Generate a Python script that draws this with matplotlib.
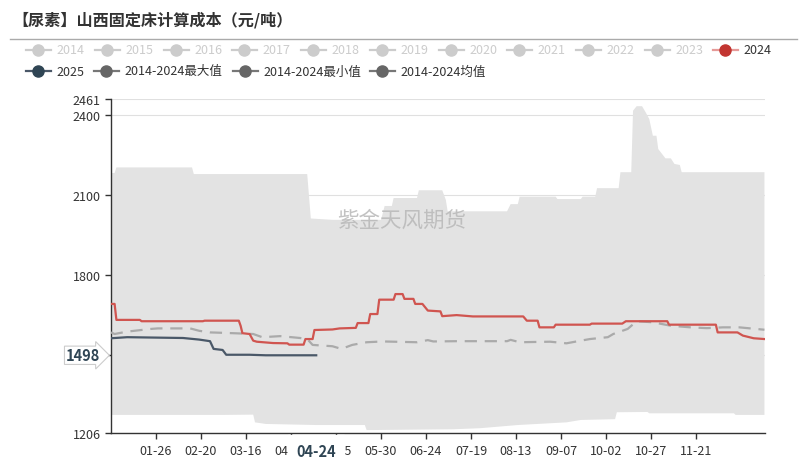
import matplotlib
matplotlib.use('Agg')
import matplotlib.pyplot as plt
from matplotlib.lines import Line2D

plt.rcParams['font.family'] = ['Noto Sans CJK SC', 'DejaVu Sans']

# day-of-year (2024 calendar) and values
max_days = [0, 2, 3, 45, 46, 109, 111, 123, 150, 152, 156, 157, 170, 171, 184, 186, 187,
            220, 222, 226, 227, 247, 248, 261, 262, 269, 270, 282, 283, 289, 290, 292,
            295, 297, 299, 301, 303, 304, 308, 311, 313, 316, 317, 363]
max_vals = [2183, 2183, 2204, 2204, 2179, 2179, 2012, 2007, 2007, 2059, 2059, 2089, 2089,
            2118, 2118, 2082, 2039, 2039, 2066, 2066, 2094, 2094, 2085, 2085, 2094, 2094,
            2126, 2126, 2186, 2186, 2417, 2434, 2434, 2411, 2386, 2323, 2323, 2273, 2238,
            2238, 2217, 2213, 2186, 2186]

min_days = [0, 63, 79, 80, 86, 114, 141, 142, 190, 205, 226, 253, 261, 280, 281, 298,
            299, 346, 347, 363]
min_vals = [1274, 1274, 1275, 1246, 1240, 1236, 1236, 1217, 1220, 1224, 1236, 1246, 1255,
            1258, 1284, 1285, 1280, 1280, 1274, 1274]

y2024_days = [0, 2, 3, 16, 17, 51, 52, 71, 72, 73, 77, 79, 81, 90, 98, 99, 107, 108, 112,
              113, 123, 127, 136, 137, 143, 144, 148, 149, 157, 158, 162, 163, 168, 169,
              173, 176, 183, 184, 192, 201, 229, 231, 237, 238, 246, 247, 266, 267, 284,
              286, 309, 310, 336, 337, 348, 351, 357, 363]
y2024_vals = [1691, 1691, 1631, 1631, 1626, 1626, 1628, 1628, 1609, 1581, 1578, 1553, 1549,
              1544, 1543, 1538, 1538, 1559, 1559, 1593, 1595, 1599, 1601, 1619, 1619, 1653,
              1653, 1707, 1707, 1728, 1728, 1710, 1710, 1691, 1691, 1666, 1663, 1645, 1649,
              1644, 1644, 1628, 1628, 1603, 1603, 1613, 1613, 1617, 1617, 1626, 1626, 1613,
              1613, 1584, 1584, 1572, 1562, 1559]

y2025_days = [0, 9, 40, 49, 55, 57, 62, 64, 77, 86, 114]
y2025_vals = [1562, 1566, 1563, 1557, 1551, 1522, 1518, 1500, 1500, 1498, 1498]

mean_days = [0, 2, 9, 22, 26, 44, 49, 55, 68, 79, 84, 94, 105, 109, 112, 123, 128, 134,
             142, 151, 170, 176, 179, 192, 220, 222, 227, 244, 253, 261, 266, 276, 279,
             287, 292, 301, 311, 322, 331, 340, 349, 363]
mean_vals = [1584, 1578, 1587, 1597, 1599, 1599, 1590, 1584, 1581, 1578, 1566, 1570, 1563,
             1559, 1537, 1532, 1522, 1537, 1547, 1550, 1547, 1555, 1550, 1551, 1551, 1556,
             1547, 1549, 1543, 1553, 1559, 1566, 1578, 1597, 1626, 1622, 1609, 1603, 1600,
             1603, 1603, 1594]

tick_days = [25, 50, 75, 100, 125, 150, 175, 200, 225, 250, 275, 300, 325]
tick_labels = ['01-26', '02-20', '03-16', '04-10', '05-05', '05-30', '06-24', '07-19',
               '08-13', '09-07', '10-02', '10-27', '11-21']
y_ticks = [1206, 1500, 1800, 2100, 2400, 2461]
y_labels = ['1206', '', '1800', '2100', '2400', '2461']

legend_row1 = ['2014', '2015', '2016', '2017', '2018', '2019', '2020', '2021', '2022',
               '2023', '2024']
legend_row2 = ['2025', '2014-2024最大值', '2014-2024最小值', '2014-2024均值']

fig = plt.figure(figsize=(8.07, 4.6), dpi=100)
ax = fig.add_axes([111 / 807, 1 - 434 / 460, 654 / 807, 334 / 460])

# band between max and min
ax.fill(max_days + min_days[::-1], max_vals + min_vals[::-1], color='#e3e3e3', lw=0, zorder=1)
ax.plot(mean_days, mean_vals, color='#aaaaaa', lw=1.6, dashes=(5.5, 3.5), zorder=3)
ax.plot(y2024_days, y2024_vals, color='#d05550', lw=1.6, zorder=4)
ax.plot(y2025_days, y2025_vals, color='#4a5868', lw=1.6, zorder=5)

ax.set_xlim(0, 363.3)
ax.set_ylim(1206, 2461)
ax.set_yticks(y_ticks)
ax.set_yticklabels(y_labels)
ax.set_xticks(tick_days)
ax.set_xticklabels(tick_labels)
ax.tick_params(axis='both', labelsize=9, colors='#333333', length=4, width=1)
ax.tick_params(axis='x', pad=4)
ax.grid(axis='y', color='#e0e0e0', lw=0.8, zorder=0)
ax.set_axisbelow(True)
for s in ['top', 'right']:
    ax.spines[s].set_visible(False)
for s in ['left', 'bottom']:
    ax.spines[s].set_color('#333333')
    ax.spines[s].set_linewidth(1)

# axis pointer labels (cover the neighbouring tick labels like the original)
ax.annotate('04-24', xy=(114, 1206), xycoords='data', xytext=(0, -13),
            textcoords='offset points', ha='center', va='center', fontsize=10.5,
            fontweight='bold', color='#2f4554', zorder=10, annotation_clip=False,
            bbox=dict(boxstyle='square,pad=0.55', fc='white', ec='white'))
ax.annotate('1498', xy=(0, 1498), xycoords='data', xytext=(-8, 0),
            textcoords='offset points', ha='right', va='center', fontsize=10.5,
            fontweight='bold', color='#2f4554', zorder=10, annotation_clip=False,
            bbox=dict(boxstyle='rarrow,pad=0.08', fc='white', ec='#cccccc', lw=0.8))

# overlay in pixel coordinates for title, watermark and legend
ov = fig.add_axes([0, 0, 1, 1], zorder=-1)
ov.set_xlim(0, 807)
ov.set_ylim(460, 0)
ov.axis('off')
ov.patch.set_alpha(0)

ov.text(12, 20, '【尿素】山西固定床计算成本（元/吨）', ha='left', va='center',
        fontsize=11.6, fontweight='bold', color='#333333')
ov.add_line(Line2D([10, 797], [40, 40], color='#aaaaaa', lw=1))

fig.text(402 / 807, 1 - 221 / 460, '紫金天风期货', ha='center', va='center',
         fontsize=15.5, color='#b8b8b8', alpha=0.85, zorder=6)

row1_x = [38, 107, 176, 244, 313, 382, 451, 519, 588, 657, 725]
for i, name in enumerate(legend_row1):
    cx = row1_x[i]
    if name == '2024':
        lc, mc, tc = '#e69a98', '#c23531', '#333333'
    else:
        lc, mc, tc = '#cccccc', '#cccccc', '#cccccc'
    ov.add_line(Line2D([cx - 12.5, cx + 12.5], [51, 51], color=lc, lw=1.6))
    ov.plot(cx, 51, 'o', ms=8, color=mc, mec=mc)
    ov.text(cx + 18, 51, name, ha='left', va='center', fontsize=9, color=tc)

row2_x = [38, 106, 245, 382]
row2_colors = [('#4a5868', '#2f4554'), ('#777777', '#666666'), ('#777777', '#666666'),
               ('#777777', '#666666')]
for i, name in enumerate(legend_row2):
    cx = row2_x[i]
    lc, mc = row2_colors[i]
    ov.add_line(Line2D([cx - 12.5, cx + 12.5], [72, 72], color=lc, lw=1.6))
    ov.plot(cx, 72, 'o', ms=8, color=mc, mec=mc)
    ov.text(cx + 18, 72, name, ha='left', va='center', fontsize=9, color='#333333')

fig.savefig('out.png', dpi=100)
